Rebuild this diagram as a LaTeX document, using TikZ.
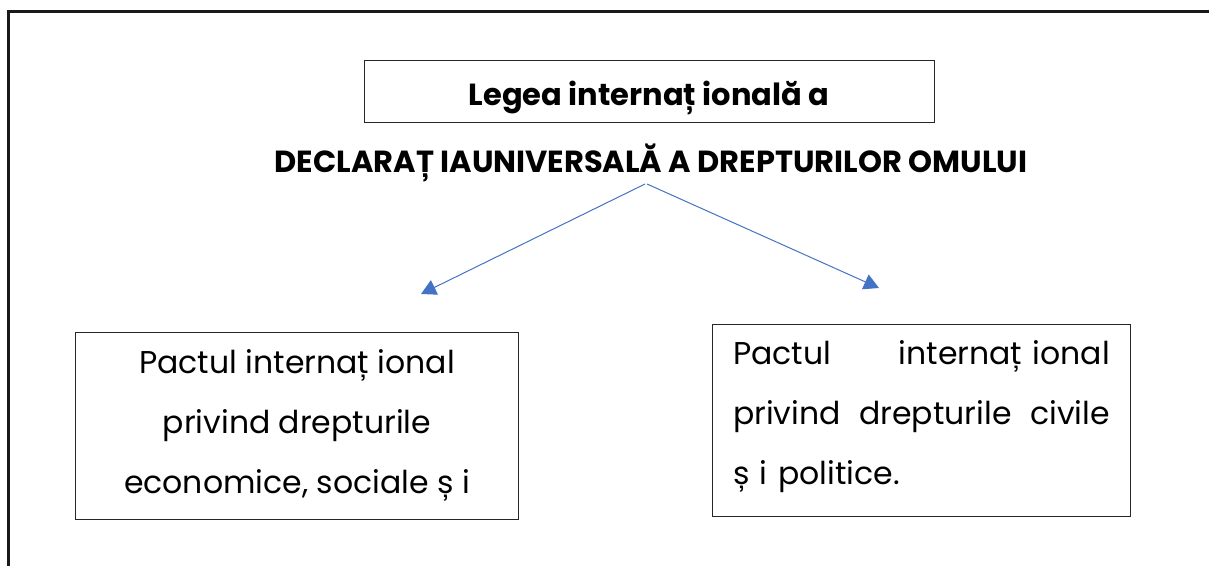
\documentclass[tikz,border=0pt]{standalone}
\usepackage{fontspec}
\setmainfont{Poppins}
\usetikzlibrary{arrows.meta}
\definecolor{arrowblue}{HTML}{4472C4}
\tikzset{
  box/.style={draw=black!85, line width=1pt, inner sep=0pt, minimum width=#1},
  headfont/.style={font=\bfseries\fontsize{30.5}{34}\selectfont},
  bodyfont/.style={font=\fontsize{31.5}{60}\selectfont},
  conn/.style={draw=arrowblue, line width=1pt, -{Triangle[length=15pt,width=16pt]}, arrowblue},
  frame/.style={line width=3pt, black!90}
}
\begin{document}
\begin{tikzpicture}[x=1pt,y=-1pt]
\useasboundingbox (0,0) rectangle (1209,565);
% outer frame (only left and top edges visible)
\draw[frame] (8,575) -- (8,11) -- (1220,11);
% top box
\node[box=570pt, minimum height=62pt] (law) at (649,91) {};
\node[headfont, inner sep=0pt, anchor=base] (lawtext) at (649,105) {Legea internaț ională a};
% headline
\node[headfont, inner sep=0pt, anchor=base] (decl) at (651,172) {DECLARAȚ IAUNIVERSALĂ A DREPTURILOR OMULUI};
% arrows
\coordinate (src) at (645,184);
\coordinate (tipL) at (421,294);
\coordinate (tipR) at (879,288);
\draw[conn] (src) -- (tipL);
\draw[conn] ([xshift=2pt]src) -- (tipR);
% left box
\node[box=443pt, minimum height=187pt, bodyfont, align=center] (econ) at (297,425.5)
  {Pactul internaț ional\\privind drepturile\\economice, sociale ș i};
% right box
\node[draw=black!85, line width=1pt, minimum width=418pt, minimum height=192pt] (civ) at (921,420) {};
\node[bodyfont, text width=377pt, align=left, inner sep=0pt] (civtext) at (921.5,417)
  {Pactul\hfill internaț ional\\privind\hfill drepturile\hfill civile\\ș i politice.};
\end{tikzpicture}
\end{document}
